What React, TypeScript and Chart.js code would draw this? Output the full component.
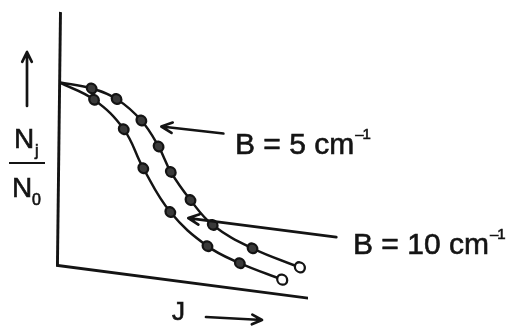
import React, { useEffect, useRef } from "react";
import { Chart, registerables } from "chart.js";

Chart.register(...registerables);

// Rotational level population N_J/N_0 versus J for two rotational constants
const seriesLabels = ["B = 5 cm", "B = 10 cm"];
const jB5 = [0, 1.3, 2.3, 3.3, 4.0, 4.5, 5.3, 6.2, 7.8, 9.7];
const ratioB5 = [1.0, 0.99, 0.95, 0.85, 0.72, 0.59, 0.45, 0.33, 0.23, 0.16];
const jB10 = [0, 1.4, 2.6, 3.4, 4.5, 6.0, 7.3, 9.0];
const ratioB10 = [1.0, 0.93, 0.79, 0.59, 0.37, 0.21, 0.14, 0.08];
const J_MAX = 10;
const RATIO_MAX = 1.38;

// hand-drawn sheet is slightly sheared: the J axis runs downhill to the right
const SHEAR_Y = 0.13;
const SHEAR_X = -0.012;
const INK = "#141414";
const FONT = '"Liberation Sans", Arial, sans-serif';

function toPoints(xs: number[], ys: number[]) {
  return xs.map((x, i) => ({ x, y: ys[i] }));
}

// first point is where the curve leaves the axis (no marker); last marker is open
function radii(n: number) {
  return Array.from({ length: n }, (_, i) => (i === 0 ? 0 : i === n - 1 ? 5 : 4.8));
}
function fills(n: number) {
  return Array.from({ length: n }, (_, i) => (i === n - 1 ? "#ffffff" : "#3a3a3a"));
}

function arrow(ctx: CanvasRenderingContext2D, x1: number, y1: number, x2: number, y2: number, head = 12, width = 2.7) {
  const a = Math.atan2(y2 - y1, x2 - x1);
  ctx.save();
  ctx.strokeStyle = INK;
  ctx.lineWidth = width;
  ctx.lineCap = "round";
  ctx.lineJoin = "round";
  ctx.beginPath();
  ctx.moveTo(x1, y1);
  ctx.lineTo(x2, y2);
  ctx.moveTo(x2 - head * Math.cos(a - 0.45), y2 - head * Math.sin(a - 0.45));
  ctx.lineTo(x2, y2);
  ctx.lineTo(x2 - head * Math.cos(a + 0.45), y2 - head * Math.sin(a + 0.45));
  ctx.stroke();
  ctx.restore();
}

// text with a thin outline so it reads as heavy as the inked strokes
function ink(ctx: CanvasRenderingContext2D, text: string, x: number, y: number) {
  ctx.fillText(text, x, y);
  ctx.strokeText(text, x, y);
}

function labelWithSup(ctx: CanvasRenderingContext2D, text: string, x: number, y: number, size: number) {
  ctx.font = `${size}px ${FONT}`;
  ctx.fillStyle = INK;
  ctx.strokeStyle = INK;
  ctx.lineWidth = 0.6;
  ctx.textBaseline = "alphabetic";
  ctx.textAlign = "left";
  ink(ctx, text, x, y);
  const w = ctx.measureText(text).width;
  ctx.font = `${Math.round(size * 0.5)}px ${FONT}`;
  ink(ctx, "\u2013", w + x + 1, y - size * 0.5);
  ink(ctx, "1", w + x + ctx.measureText("\u2013").width, y - size * 0.5);
}

const shearPlugin = {
  id: "shear",
  beforeDraw(chart: any) {
    const { ctx, chartArea } = chart;
    const ox = chartArea.left;
    const oy = chartArea.bottom;
    ctx.save();
    ctx.transform(1, SHEAR_Y, SHEAR_X, 1, -SHEAR_X * oy, -SHEAR_Y * ox);
  },
  afterDraw(chart: any) {
    const { ctx, chartArea, scales } = chart;
    ctx.restore();
    const ox = chartArea.left;
    const oy = chartArea.bottom;
    const onPage = (x: number, y: number) => {
      const px = scales.x.getPixelForValue(x);
      const py = scales.y.getPixelForValue(y);
      return { x: px + SHEAR_X * (py - oy), y: py + SHEAR_Y * (px - ox) };
    };

    // pointer to the B = 5 curve
    const p5 = onPage(jB5[3], ratioB5[3]);
    arrow(ctx, p5.x + 82, p5.y + 13, p5.x + 20, p5.y + 6);
    labelWithSup(ctx, seriesLabels[0], 235, 154, 30);

    // pointer to the B = 10 curve
    const p10 = onPage(jB10[4], ratioB10[4]);
    arrow(ctx, p10.x + 166, p10.y + 25, p10.x + 18, p10.y + 6);
    labelWithSup(ctx, seriesLabels[1], 353, 254, 30);

    // y-axis label: N_j / N_0 with upward arrow
    arrow(ctx, 27, 106, 27, 52, 11, 2.7);
    ctx.fillStyle = INK;
    ctx.strokeStyle = INK;
    ctx.lineWidth = 0.6;
    ctx.textAlign = "left";
    ctx.font = `28px ${FONT}`;
    ink(ctx, "N", 14, 148);
    ink(ctx, "N", 12, 197);
    ctx.font = `16px ${FONT}`;
    ink(ctx, "j", 35, 156);
    ink(ctx, "0", 32, 205);
    ctx.lineWidth = 2.2;
    ctx.beginPath();
    ctx.moveTo(9, 163);
    ctx.lineTo(45, 163);
    ctx.stroke();

    // x-axis label: J with arrow
    ctx.font = `26px ${FONT}`;
    ctx.lineWidth = 0.6;
    ink(ctx, "J", 172, 320);
    arrow(ctx, 206, 317, 262, 320, 11, 2.7);
  },
};

export default function App() {
  const canvasRef = useRef<HTMLCanvasElement | null>(null);

  useEffect(() => {
    if (!canvasRef.current) return;
    const common = {
      borderColor: INK,
      borderWidth: 2.6,
      tension: 0.4,
      pointBorderColor: INK,
      pointBorderWidth: 2.3,
      clip: false as const,
    };
    const chart = new Chart(canvasRef.current, {
      type: "line",
      data: {
        datasets: [
          {
            ...common,
            label: seriesLabels[0],
            data: toPoints(jB5, ratioB5),
            pointRadius: radii(jB5.length),
            pointBackgroundColor: fills(jB5.length),
          },
          {
            ...common,
            label: seriesLabels[1],
            data: toPoints(jB10, ratioB10),
            pointRadius: radii(jB10.length),
            pointBackgroundColor: fills(jB10.length),
          },
        ],
      },
      options: {
        responsive: false,
        animation: false,
        events: [],
        layout: { padding: { left: 57, top: 13, right: 213, bottom: 64 } },
        plugins: { legend: { display: false }, tooltip: { enabled: false }, title: { display: false } },
        scales: {
          x: {
            type: "linear",
            min: 0,
            max: J_MAX,
            grid: { display: false, drawTicks: false, tickLength: 0 },
            ticks: { display: false },
            border: { display: true, color: INK, width: 2.9 },
          },
          y: {
            type: "linear",
            min: 0,
            max: RATIO_MAX,
            grid: { display: false, drawTicks: false, tickLength: 0 },
            ticks: { display: false },
            border: { display: true, color: INK, width: 2.9 },
          },
        },
      },
      plugins: [shearPlugin],
    });
    return () => chart.destroy();
  }, []);

  return (
    <div style={{ position: "fixed", left: 0, top: 0, width: 520, height: 329, background: "#ffffff" }}>
      <canvas ref={canvasRef} width={520} height={329} style={{ display: "block", width: 520, height: 329 }} />
    </div>
  );
}
